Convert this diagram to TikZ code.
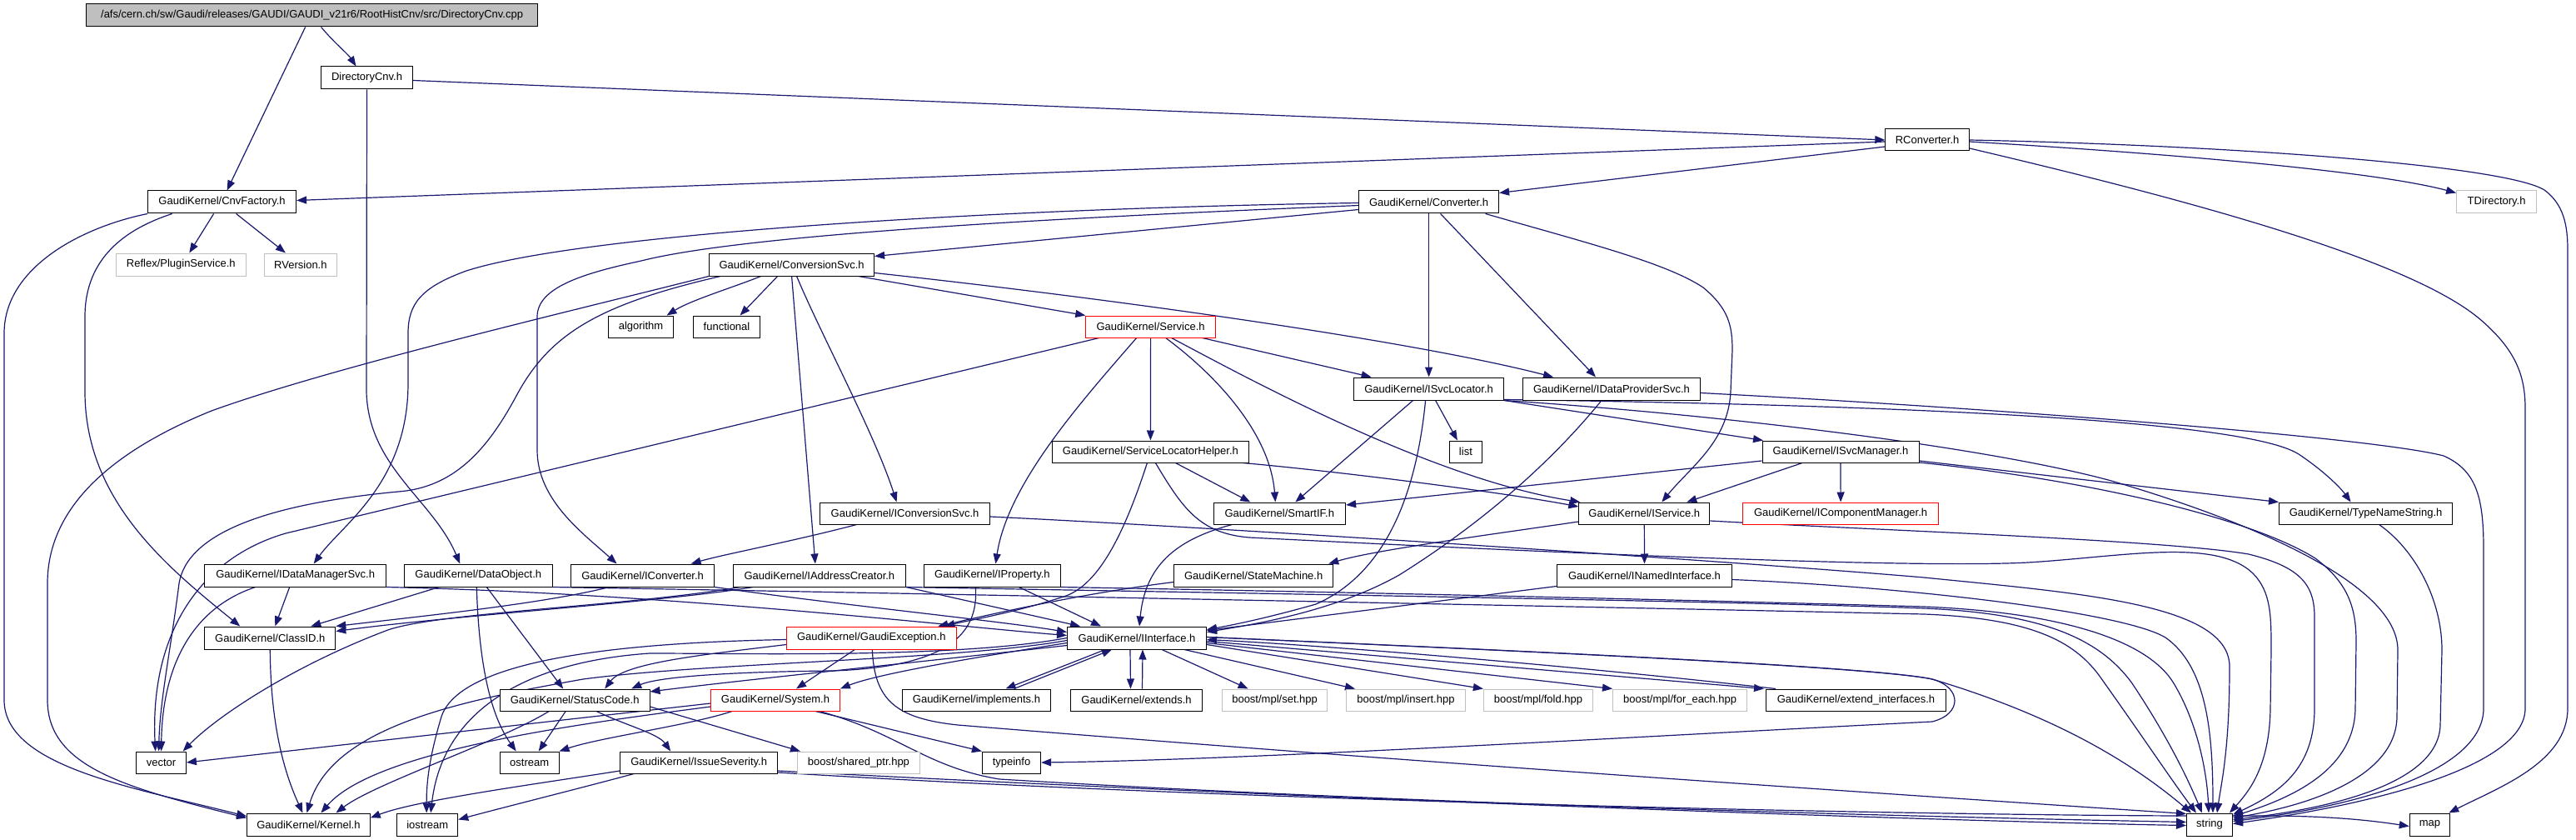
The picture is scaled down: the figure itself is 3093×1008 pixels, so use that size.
\documentclass[tikz,border=0pt]{standalone}
\usepackage{fontspec}
\setmainfont{Liberation Sans}
\usetikzlibrary{arrows.meta}
\definecolor{ec}{HTML}{191970}
\definecolor{gb}{HTML}{BFBFBF}
\pgfdeclarelayer{bg}
\pgfsetlayers{bg,main}
\newcommand\dxf{\fontsize{13}{15}\selectfont}
\begin{document}
\begin{tikzpicture}[x=1pt,y=-1pt,
  nd/.style={draw=black,fill=white,rectangle,inner sep=0pt,line width=1pt,font=\dxf,minimum height=27pt},
  gr/.style={nd,draw=gb},
  rd/.style={nd,draw=red},
  rootn/.style={nd,fill=gb},
  e/.style={draw=ec,line width=1.2pt,-{Triangle[length=12pt,width=9pt]}}]
\useasboundingbox (0,0) rectangle (3093,1008);
% ---------------- nodes
\node[rootn,minimum width=542pt] (root) at (374.6,18.5) {/afs/cern.ch/sw/Gaudi/releases/GAUDI/GAUDI\_v21r6/RootHistCnv/src/DirectoryCnv.cpp};
\node[nd,minimum width=110pt] (dircnv) at (440.5,93.5) {DirectoryCnv.h};
\node[nd,minimum width=178pt] (cnvf) at (266.6,242.5) {GaudiKernel/CnvFactory.h};
\node[gr,minimum width=156.5pt] (reflex) at (217.3,317.5) {Reflex/PluginService.h};
\node[gr,minimum width=87pt] (rversion) at (360.9,317.5) {RVersion.h};
\node[nd,minimum width=198pt] (convsvc) at (950.6,317.5) {GaudiKernel/ConversionSvc.h};
\node[nd,minimum width=100.6pt,minimum height=26pt] (rconv) at (2314.1,168) {RConverter.h};
\node[nd,minimum width=168pt] (converter) at (1715.6,242.5) {GaudiKernel/Converter.h};
\node[gr,minimum width=96pt] (tdir) at (2997.6,242.5) {TDirectory.h};
\node[nd,minimum width=77.5pt,minimum height=26pt] (algorithm) at (769.5,392) {algorithm};
\node[nd,minimum width=79.6pt,minimum height=26pt] (functional) at (872.5,392) {functional};
\node[rd,minimum width=155.7pt,minimum height=26pt] (service) at (1381.6,392) {GaudiKernel/Service.h};
\node[nd,minimum width=236.8pt,minimum height=26pt] (slh) at (1381.4,542) {GaudiKernel/ServiceLocatorHelper.h};
\node[nd,minimum width=203.5pt,minimum height=26pt] (iconvsvc) at (1086.6,616) {GaudiKernel/IConversionSvc.h};
\node[nd,minimum width=158.6pt,minimum height=26pt] (smartif) at (1536.3,616) {GaudiKernel/SmartIF.h};
\node[nd,minimum width=180pt] (isvcloc) at (1715.6,466.5) {GaudiKernel/ISvcLocator.h};
\node[nd,minimum width=213pt] (idps) at (1935,466.5) {GaudiKernel/IDataProviderSvc.h};
\node[nd,minimum width=38.8pt,minimum height=26pt] (list) at (1759.9,542) {list};
\node[nd,minimum width=188pt,minimum height=26pt] (isvcman) at (2210,542) {GaudiKernel/ISvcManager.h};
\node[nd,minimum width=157pt,minimum height=26pt] (iservice) at (1974.3,616) {GaudiKernel/IService.h};
\node[rd,minimum width=234.8pt,minimum height=26pt] (icompman) at (2210.1,616) {GaudiKernel/IComponentManager.h};
\node[nd,minimum width=208.3pt,minimum height=26pt] (typename) at (2840.6,616) {GaudiKernel/TypeNameString.h};
\node[nd,minimum width=218pt] (idms) at (354.7,690.5) {GaudiKernel/IDataManagerSvc.h};
\node[nd,minimum width=178.6pt] (dataobj) at (574.3,690.5) {GaudiKernel/DataObject.h};
\node[nd,minimum width=172pt] (iconverter) at (771.6,690.5) {GaudiKernel/IConverter.h};
\node[nd,minimum width=207pt] (iaddr) at (983.9,690.5) {GaudiKernel/IAddressCreator.h};
\node[nd,minimum width=164pt] (iprop) at (1191.4,690.5) {GaudiKernel/IProperty.h};
\node[nd,minimum width=191pt] (statem) at (1505.2,690.5) {GaudiKernel/StateMachine.h};
\node[nd,minimum width=210.4pt] (inamed) at (1974.5,690.5) {GaudiKernel/INamedInterface.h};
\node[nd,minimum width=157pt] (classid) at (324.3,765.5) {GaudiKernel/ClassID.h};
\node[rd,minimum width=203.4pt] (gexc) at (1046.3,765.5) {GaudiKernel/GaudiException.h};
\node[nd,minimum width=167pt] (iinterface) at (1365,765.5) {GaudiKernel/IInterface.h};
\node[nd,minimum width=179.6pt,minimum height=26pt] (statuscode) at (690.2,840) {GaudiKernel/StatusCode.h};
\node[rd,minimum width=154.7pt,minimum height=26pt] (system) at (931,840) {GaudiKernel/System.h};
\node[nd,minimum width=178pt,minimum height=26pt] (implements) at (1172.5,840) {GaudiKernel/implements.h};
\node[nd,minimum width=158pt,minimum height=26pt] (extends) at (1364.5,840) {GaudiKernel/extends.h};
\node[gr,minimum width=126.3pt,minimum height=26pt] (mplset) at (1530.6,840) {boost/mpl/set.hpp};
\node[gr,minimum width=142.8pt,minimum height=26pt] (mplinsert) at (1688,840) {boost/mpl/insert.hpp};
\node[gr,minimum width=131.3pt,minimum height=26pt] (mplfold) at (1847,840) {boost/mpl/fold.hpp};
\node[gr,minimum width=161.2pt,minimum height=26pt] (mplforeach) at (2017.1,840) {boost/mpl/for\_each.hpp};
\node[nd,minimum width=216pt,minimum height=26pt] (extif) at (2228.5,840) {GaudiKernel/extend\_interfaces.h};
\node[nd,minimum width=59.7pt,minimum height=26pt] (vector) at (193.6,915) {vector};
\node[nd,minimum width=70.6pt,minimum height=26pt] (ostream) at (635.7,915) {ostream};
\node[nd,minimum width=189pt,minimum height=26pt] (issue) at (839.2,915) {GaudiKernel/IssueSeverity.h};
\node[gr,minimum width=146.8pt,minimum height=26pt] (sharedptr) at (1030.9,915) {boost/shared\_ptr.hpp};
\node[nd,minimum width=70.2pt,minimum height=26pt] (typeinfo) at (1214.5,915) {typeinfo};
\node[nd,minimum width=147.7pt] (kernel) at (370.4,989.5) {GaudiKernel/Kernel.h};
\node[nd,minimum width=73.1pt] (iostream) at (513.2,989.5) {iostream};
\node[nd,minimum width=55pt] (string) at (2653,989.5) {string};
\node[nd,minimum width=48.5pt] (map) at (2917.5,989.5) {map};
% ---------------- edges
\begin{pgfonlayer}{bg}
\fill[white] (0,0) rectangle (3093,1008);
% root
\draw[e] ([xshift=-8pt]root.south) -- ([xshift=6pt]cnvf.north);
\draw[e] ([xshift=11pt]root.south) .. controls (400,50) and (418,65) .. ([xshift=-13pt]dircnv.north);
% DirectoryCnv
\draw[e] ([yshift=-3pt]dircnv.east) -- (rconv.west);
\draw[e] (dircnv.south) -- (440,470) .. controls (442,560) and (520,600) .. ([xshift=-22pt]dataobj.north);
% CnvFactory
\draw[e] ([xshift=-10pt]cnvf.south) -- ([xshift=10pt]reflex.north);
\draw[e] ([xshift=17pt]cnvf.south) -- ([xshift=-18pt]rversion.north);
\draw[e] (cnvf.south west) .. controls (100,272) and (5,320) .. (5,400) -- (5,840) .. controls (5,920) and (160,945) .. ([yshift=10pt]kernel.west);
\draw[e] ([xshift=-60pt]cnvf.south) .. controls (150,275) and (102,310) .. (102,380) -- (102,470) .. controls (102,600) and (200,680) .. ([xshift=-36pt]classid.north);
% RConverter
\draw[e] ([yshift=-2pt]rconv.west) -- ([yshift=2pt]cnvf.east);
\draw[e] ([yshift=-8pt]rconv.west) -- ([yshift=11pt]converter.east);
\draw[e] ([yshift=-2pt]rconv.east) .. controls (2600,184) and (2850,205) .. ([yshift=11pt]tdir.west);
\draw[e] (rconv.east) .. controls (2700,175) and (3010,200) .. (3055,228) .. controls (3078,245) and (3083,270) .. (3083,300) -- (3083,850) .. controls (3083,915) and (3000,945) .. ([xshift=-2pt]map.north east);
\draw[e] ([yshift=-10pt]rconv.east) .. controls (2650,245) and (2900,315) .. (2980,385) .. controls (3020,420) and (3032,450) .. (3032,490) -- (3032,850) .. controls (3032,920) and (2850,965) .. ([yshift=1pt]string.east);
% Converter
\draw[e] ([yshift=-9pt]converter.west) -- ([yshift=10pt]convsvc.east);
\draw[e] ([yshift=-1pt]converter.west) .. controls (1200,250) and (700,280) .. (560,325) .. controls (505,345) and (490,365) .. (490,400) -- (490,460) .. controls (490,580) and (410,630) .. ([xshift=22pt]idms.north);
\draw[e] ([yshift=-4pt]converter.west) .. controls (1300,260) and (900,280) .. (770,313) .. controls (700,328) and (645,345) .. (645,380) -- (645,540) .. controls (645,600) and (700,640) .. ([xshift=-31pt]iconverter.north);
\draw[e] (converter.south) -- (isvcloc.north);
\draw[e] ([xshift=14pt]converter.south) -- ([xshift=-19pt]idps.north);
\draw[e] ([xshift=68pt]converter.south) .. controls (1900,290) and (2000,315) .. (2045,345) .. controls (2075,370) and (2080,390) .. (2080,420) -- (2078,470) .. controls (2075,530) and (2030,560) .. ([xshift=21pt]iservice.north);
% ConversionSvc
\draw[e] ([xshift=-37pt]convsvc.south) .. controls (880,345) and (830,360) .. ([xshift=31pt]algorithm.north);
\draw[e] ([xshift=-17pt]convsvc.south) -- ([xshift=16pt]functional.north);
\draw[e] ([xshift=80pt]convsvc.south) -- (service.north west);
\draw[e] ([yshift=-10pt]convsvc.east) .. controls (1350,360) and (1700,410) .. ([xshift=-70pt]idps.north);
\draw[e] ([xshift=6pt]convsvc.south) .. controls (985,400) and (1050,520) .. ([xshift=-10pt]iconvsvc.north);
\draw[e] (convsvc.south) -- ([xshift=-5pt]iaddr.north);
\draw[e] (convsvc.south west) .. controls (700,370) and (400,440) .. (254,493) .. controls (150,535) and (57,600) .. (57,700) -- (57,840) .. controls (57,920) and (150,945) .. ([yshift=8pt]kernel.west);
\draw[e] ([xshift=14pt]convsvc.south west) .. controls (720,365) and (660,400) .. (620,475) .. controls (585,540) and (545,585) .. (478,590) .. controls (320,605) and (225,640) .. (215,700) .. controls (205,780) and (192,840) .. ([xshift=-3pt]vector.north);
% Service
\draw[e] ([xshift=62pt]service.south) -- ([xshift=-69pt]isvcloc.north);
\draw[e] ([xshift=25pt]service.south) .. controls (1500,455) and (1720,575) .. ([xshift=-77pt]iservice.north);
\draw[e] ([xshift=18pt]service.south) .. controls (1460,450) and (1525,520) .. ([xshift=-5pt]smartif.north);
\draw[e] (service.south) -- (slh.north);
\draw[e] ([xshift=-17pt]service.south) .. controls (1300,480) and (1210,580) .. ([xshift=4pt]iprop.north);
\draw[e] ([xshift=-62pt]service.south) -- (343,640) .. controls (240,670) and (180,760) .. ([xshift=-7pt]vector.north);
% ServiceLocatorHelper
\draw[e] ([xshift=30pt]slh.south) -- ([xshift=-35pt]smartif.north);
\draw[e] ([xshift=-8pt]slh.south east) .. controls (1600,565) and (1800,590) .. ([yshift=8pt]iservice.west);
\draw[e] ([xshift=-4pt]slh.south) .. controls (1350,640) and (1320,700) .. (1280,715) .. controls (1220,735) and (1160,745) .. ([xshift=88pt]gexc.north);
\draw[e] ([xshift=6pt]slh.south) .. controls (1420,610) and (1440,640) .. (1500,645) .. controls (1900,665) and (2300,682) .. (2435,675) .. controls (2550,668) and (2660,645) .. (2705,688) .. controls (2727,710) and (2727,740) .. (2727,780) -- (2726,850) .. controls (2725,920) and (2700,950) .. ([xshift=24pt]string.north);
% IConversionSvc
\draw[e] ([xshift=-58pt]iconvsvc.south) .. controls (950,650) and (870,665) .. ([xshift=58pt]iconverter.north);
\draw[e] ([yshift=-4pt]iconvsvc.east) .. controls (1500,635) and (2100,675) .. (2310,693) .. controls (2500,712) and (2677,725) .. (2677,800) .. controls (2677,900) and (2667,940) .. ([xshift=9pt]string.north);
% ISvcLocator
\draw[e] ([xshift=8pt]isvcloc.south) -- ([xshift=-10pt]list.north);
\draw[e] ([xshift=-19pt]isvcloc.south) -- ([xshift=19pt]smartif.north);
\draw[e] (isvcloc.south east) -- ([xshift=-93pt]isvcman.north);
\draw[e] ([xshift=-4pt]isvcloc.south) .. controls (1700,600) and (1660,690) .. (1580,725) .. controls (1520,742) and (1480,750) .. ([yshift=10pt]iinterface.east);
\draw[e] ([yshift=-13pt]isvcloc.east) .. controls (2200,485) and (2690,500) .. (2760,545) .. controls (2790,565) and (2810,585) .. ([xshift=-18pt]typename.north);
\draw[e] (isvcloc.south east) .. controls (2100,500) and (2400,540) .. (2535,577) .. controls (2700,625) and (2879,700) .. (2879,780) -- (2878,860) .. controls (2877,930) and (2780,965) .. ([yshift=8pt]string.east);
% IDataProviderSvc
\draw[e] ([xshift=-12pt]idps.south) .. controls (1850,570) and (1760,640) .. (1680,690) .. controls (1600,735) and (1500,750) .. ([yshift=7pt]iinterface.east);
\draw[e] ([yshift=-5pt]idps.east) .. controls (2400,490) and (2850,525) .. (2934,547) .. controls (2975,565) and (2982,600) .. (2982,660) -- (2982,850) .. controls (2982,920) and (2850,965) .. ([yshift=4pt]string.east);
% ISvcManager
\draw[e] ([yshift=-11pt]isvcman.west) -- ([yshift=10pt]smartif.east);
\draw[e] ([xshift=-46pt]isvcman.south) -- ([xshift=51pt]iservice.north);
\draw[e] (isvcman.south) -- (icompman.north);
\draw[e] ([yshift=-11pt]isvcman.east) -- (typename.north west);
\draw[e] ([yshift=-13pt]isvcman.east) .. controls (2500,575) and (2700,620) .. (2780,670) .. controls (2820,700) and (2829,730) .. (2829,770) -- (2828,850) .. controls (2827,920) and (2760,955) .. ([yshift=10pt]string.east);
% IService
\draw[e] (iservice.south) -- (inamed.north);
\draw[e] ([yshift=-10pt]iservice.west) .. controls (1800,640) and (1650,660) .. ([xshift=90pt]statem.north);
\draw[e] ([yshift=-9pt]iservice.east) .. controls (2250,636) and (2600,648) .. (2700,665) .. controls (2760,680) and (2779,700) .. (2779,740) -- (2779,850) .. controls (2779,920) and (2740,950) .. ([yshift=12pt]string.east);
% INamedInterface
\draw[e] ([yshift=-13pt]inamed.west) -- ([yshift=9pt]iinterface.east);
\draw[e] ([yshift=-5pt]inamed.east) .. controls (2300,705) and (2550,735) .. (2600,765) .. controls (2650,800) and (2657,880) .. ([xshift=4pt]string.north);
% TypeNameString
\draw[e] ([xshift=16pt]typename.south) .. controls (2900,660) and (2932,720) .. (2932,780) -- (2930,870) .. controls (2928,940) and (2800,970) .. ([yshift=6pt]string.east);
% SmartIF
\draw[e] ([xshift=-57pt]smartif.south) .. controls (1410,648) and (1375,680) .. ([xshift=3pt]iinterface.north);
% IConverter
\draw[e] ([xshift=-40pt]iconverter.south) .. controls (650,725) and (500,740) .. (classid.north east);
\draw[e] (iconverter.south east) .. controls (1000,725) and (1200,745) .. ([yshift=7pt]iinterface.west);
% IAddressCreator
\draw[e] ([xshift=-80pt]iaddr.south) .. controls (800,722) and (550,738) .. ([yshift=8pt]classid.east);
\draw[e] ([xshift=-95pt]iaddr.south) .. controls (750,728) and (520,735) .. (463,757) .. controls (350,800) and (260,860) .. ([xshift=26pt]vector.north);
\draw[e] (iaddr.south east) -- ([xshift=-68pt]iinterface.north);
\draw[e] (iaddr.south east) .. controls (1500,712) and (2100,722) .. (2310,730) .. controls (2450,736) and (2520,765) .. (2560,820) .. controls (2600,880) and (2625,930) .. ([xshift=-9pt]string.north);
% IProperty
\draw[e] ([xshift=32pt]iprop.south) -- ([xshift=-43pt]iinterface.north);
\draw[e] (iprop.south east) .. controls (1700,712) and (2100,722) .. (2310,728) .. controls (2480,735) and (2580,770) .. (2610,820) .. controls (2640,870) and (2650,930) .. ([xshift=-1pt]string.north);
\draw[e] ([xshift=-20pt]iprop.south) .. controls (1175,760) and (1140,800) .. (1000,805) .. controls (880,806) and (790,812) .. ([xshift=68pt]statuscode.north);
% StateMachine
\draw[e] ([yshift=-8pt]statem.west) .. controls (1300,712) and (1200,735) .. ([xshift=80pt]gexc.north);
% DataObject
\draw[e] ([xshift=-47pt]dataobj.south) -- ([xshift=49pt]classid.north);
\draw[e] ([xshift=-2pt]dataobj.south) .. controls (575,800) and (590,860) .. ([xshift=-16pt]ostream.north);
\draw[e] ([xshift=10pt]dataobj.south) -- ([xshift=-14pt]statuscode.north);
\draw[e] (dataobj.south east) .. controls (1100,712) and (2000,730) .. (2310,737) .. controls (2440,742) and (2490,770) .. (2520,810) .. controls (2570,880) and (2610,940) .. ([xshift=-16pt]string.north);
% IDataManagerSvc
\draw[e] ([xshift=-7pt]idms.south) -- ([xshift=6pt]classid.north);
\draw[e] ([xshift=-48pt]idms.south) .. controls (230,730) and (195,800) .. (vector.north);
\draw[e] (idms.south east) .. controls (800,712) and (1150,752) .. ([yshift=3pt]iinterface.west);
% ClassID
\draw[e] (classid.south) .. controls (325,880) and (345,935) .. ([xshift=-7pt]kernel.north);
% GaudiException
\draw[e] ([xshift=-20pt]gexc.south) -- ([xshift=25pt]system.north);
\draw[e] ([yshift=-8pt]gexc.west) .. controls (850,785) and (750,795) .. ([xshift=36pt]statuscode.north);
\draw[e] ([yshift=-2pt]gexc.west) .. controls (700,772) and (550,800) .. (530,860) .. controls (515,910) and (512,940) .. ([xshift=-1pt]iostream.north);
\draw[e] ([xshift=1pt]gexc.south) .. controls (1050,840) and (1075,862) .. (1150,870) .. controls (1700,915) and (2300,955) .. ([yshift=13pt]string.west);
% System
\draw[e] ([yshift=-4pt]system.west) -- (vector.east);
\draw[e] ([yshift=-8pt]system.west) .. controls (700,868) and (450,900) .. ([xshift=15pt]kernel.north);
\draw[e] ([xshift=-52pt]system.south) .. controls (830,870) and (720,885) .. (ostream.north east);
\draw[e] ([xshift=48pt]system.south) -- (typeinfo.north west);
\draw[e] ([xshift=53pt]system.south) .. controls (1080,880) and (1110,920) .. (1200,935) .. controls (1700,965) and (2300,980) .. ([yshift=3pt]string.west);
% IssueSeverity
\draw[e] ([yshift=-10pt]issue.west) .. controls (650,940) and (500,960) .. ([yshift=8pt]kernel.east);
\draw[e] ([xshift=-78pt]issue.south) .. controls (700,945) and (600,970) .. ([yshift=6pt]iostream.east);
\draw[e] ([yshift=-10pt]issue.east) .. controls (1500,955) and (2300,985) .. ([yshift=-1pt]string.west);
\draw[e] ([yshift=-12pt]issue.east) .. controls (1500,962) and (2300,978) .. (2620,979) -- (2720,979) .. controls (2800,979) and (2850,985) .. ([yshift=-2pt]map.west);
% StatusCode
\draw[e] ([xshift=-11pt]statuscode.south) -- ([xshift=11pt]ostream.north);
\draw[e] ([xshift=-31pt]statuscode.south) .. controls (600,890) and (450,940) .. ([xshift=33pt]kernel.north);
\draw[e] ([xshift=26pt]statuscode.south) .. controls (750,870) and (790,880) .. ([xshift=-34pt]issue.north);
\draw[e] ([yshift=-8pt]statuscode.east) -- ([xshift=-70pt]sharedptr.north);
% IInterface
\draw[e] ([xshift=-38pt]iinterface.south) -- ([xshift=35pt]implements.north);
\draw[e] ([xshift=45pt]implements.north) -- ([xshift=-30pt]iinterface.south);
\draw[e] ([xshift=-8pt]iinterface.south) -- ([xshift=-7pt]extends.north);
\draw[e] ([xshift=7pt]extends.north) -- ([xshift=7pt]iinterface.south);
\draw[e] ([xshift=30pt]iinterface.south) -- ([xshift=-32pt]mplset.north);
\draw[e] ([xshift=57pt]iinterface.south) -- ([xshift=-61pt]mplinsert.north);
\draw[e] ([yshift=-8pt]iinterface.east) -- (mplfold.north west);
\draw[e] ([yshift=-6pt]iinterface.east) -- (mplforeach.north west);
\draw[e] ([yshift=-4pt]iinterface.east) -- ([xshift=-2pt]extif.north west);
\draw[e] ([xshift=12pt]extif.north west) .. controls (1900,800) and (1600,775) .. ([yshift=-2pt]iinterface.east);
\draw[e] ([yshift=1pt]iinterface.east) .. controls (1800,780) and (2250,800) .. (2320,815) .. controls (2356,825) and (2356,857) .. (2320,866) .. controls (2000,882) and (1500,912) .. (typeinfo.east);
\draw[e] ([yshift=1pt]iinterface.east) .. controls (1850,782) and (2250,800) .. (2320,815) .. controls (2420,845) and (2530,890) .. ([xshift=-22pt]string.north);
\draw[e] ([yshift=-6pt]iinterface.west) .. controls (1150,792) and (1050,810) .. (system.north east);
\draw[e] ([yshift=-9pt]iinterface.west) .. controls (1100,795) and (900,815) .. ([yshift=10pt]statuscode.east);
\draw[e] ([yshift=-3pt]iinterface.west) .. controls (1150,792) and (850,795) .. (700,815) .. controls (560,840) and (400,870) .. ([xshift=-2pt]kernel.north);
\draw[e] (iinterface.west) .. controls (1150,790) and (900,784) .. (780,784) .. controls (620,795) and (530,860) .. ([xshift=4pt]iostream.north);
\end{pgfonlayer}
\end{tikzpicture}
\end{document}
